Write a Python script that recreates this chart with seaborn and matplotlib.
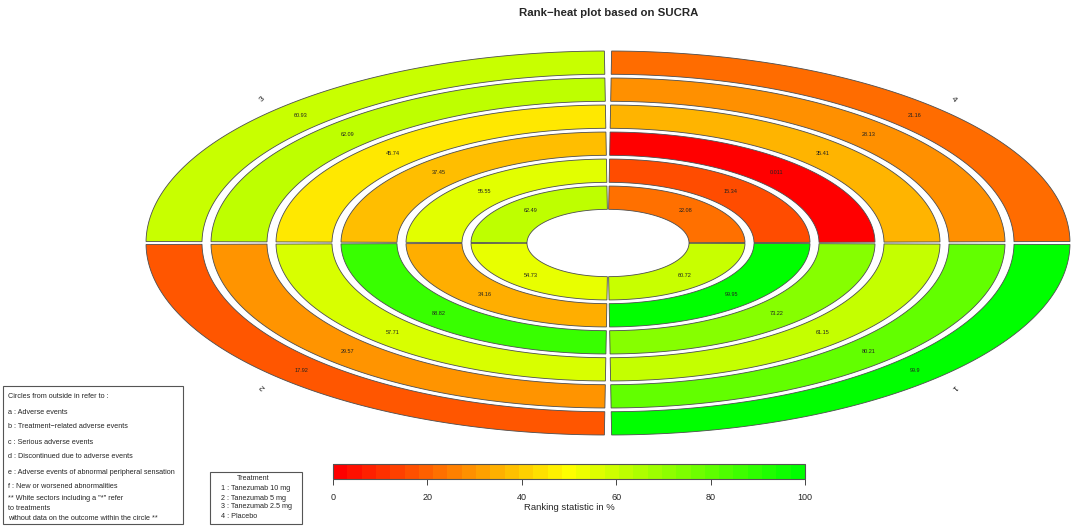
import numpy as np
import seaborn as sns
import matplotlib.pyplot as plt
from matplotlib.patches import Polygon, Rectangle
from matplotlib.colors import ListedColormap, BoundaryNorm
from matplotlib.ticker import NullLocator

# SUCRA (%) per treatment, circles a..f from outside in
treatments = ["1", "2", "3", "4"]
treatment_names = ["Tanezumab 10 mg", "Tanezumab 5 mg", "Tanezumab 2.5 mg", "Placebo"]
outcomes = ["Adverse events", "Treatment\u2212related adverse events", "Serious adverse events",
            "Discontinued due to adverse events", "Adverse events of abnormal peripheral sensation",
            "New or worsened abnormalities"]
sucra_t1 = [99.9, 80.21, 61.15, 73.22, 99.95, 60.72]
sucra_t2 = [17.92, 29.57, 57.71, 88.82, 34.16, 54.73]
sucra_t3 = [60.93, 62.09, 45.74, 37.45, 55.55, 62.49]
sucra_t4 = [21.16, 28.13, 35.41, 0.011, 15.34, 22.08]
sucra = [sucra_t1, sucra_t2, sucra_t3, sucra_t4]

sns.set_style("white")
plt.rcParams['font.family'] = ['Liberation Sans', 'DejaVu Sans']

W, H = 1072, 527
fig = plt.figure(figsize=(W / 100, H / 100), dpi=100)

# main axes: unit circle stretched into an ellipse
cx, cy, rx, ry = 608, 243, 462, 192
ax = fig.add_axes([0, 0, 1, 1])
ax.set_xlim(-cx / rx, (W - cx) / rx)
ax.set_ylim(-(H - cy) / ry, cy / ry)
ax.axis("off")

# sector colours: 100-step ramp red -> yellow -> green
fine = ListedColormap(sns.blend_palette(["#FF0000", "#FFFF00", "#00FF00"], n_colors=100))
fine_norm = BoundaryNorm(np.linspace(0, 100, 101), fine.N)
# colour key: coarser steps
cmap = ListedColormap(sns.blend_palette(["#FF0000", "#FFFF00", "#00FF00"], n_colors=33))
norm = BoundaryNorm(np.linspace(0, 100, 34), cmap.N)

step = 65 / rx
width = 56 / rx
gap = np.deg2rad(0.45)
# quadrant start angle per treatment (1 bottom-right, 2 bottom-left, 3 top-left, 4 top-right)
starts = [270, 180, 90, 0]

for t, vals in enumerate(sucra):
    a0 = np.deg2rad(starts[t]) + gap
    a1 = np.deg2rad(starts[t] + 90) - gap
    th = np.linspace(a0, a1, 120)
    for i, v in enumerate(vals):
        ro = 1 - i * step
        ri = ro - width
        xs = np.concatenate([ro * np.cos(th), ri * np.cos(th[::-1])])
        ys = np.concatenate([ro * np.sin(th), ri * np.sin(th[::-1])])
        ax.add_patch(Polygon(np.column_stack([xs, ys]), closed=True,
                             facecolor=fine(fine_norm(v)), edgecolor="#4d4d4d", lw=0.6))
        am = np.deg2rad(starts[t] + 45)
        rm = ro - width / 2
        ax.text(rm * np.cos(am), rm * np.sin(am), str(v), fontsize=4,
                ha="center", va="center", color="#222222")
    am = starts[t] + 45
    ax.text(1.057 * np.cos(np.deg2rad(am)), 1.057 * np.sin(np.deg2rad(am)), treatments[t],
            fontsize=6, rotation=am - 90, ha="center", va="center", color="#222222")

fig.text(609 / W, 1 - 13 / H, "Rank\u2212heat plot based on SUCRA", fontsize=8.2,
         fontweight="bold", ha="center", va="center")

# colour key
cax = fig.add_axes([333 / W, 1 - 479 / H, 472 / W, 15 / H])
sm = plt.cm.ScalarMappable(cmap=cmap, norm=norm)
cb = fig.colorbar(sm, cax=cax, orientation="horizontal", ticks=[0, 20, 40, 60, 80, 100])
cb.outline.set_edgecolor("#555555")
cb.outline.set_linewidth(0.8)
cax.xaxis.set_minor_locator(NullLocator())
cax.tick_params(labelsize=6.5, length=4, width=0.6, pad=6)
cb.ax.set_xticklabels(["0", "20", "40", "60", "80", "100"])
cax.set_xlabel("Ranking statistic in %", fontsize=6.8, labelpad=1)


def px(x, y):
    return x / W, 1 - y / H


# outcome legend box
x0, y0 = px(3, 524)
fig.patches.append(Rectangle((x0, y0), 180 / W, 138 / H, transform=fig.transFigure,
                             fill=False, edgecolor="#555555", lw=0.8))
lines = ["Circles from outside in refer to :"]
lines += [f"{k} : {o}" for k, o in zip("abcdef", outcomes)]
ys = [397, 412, 427, 442, 457, 472, 487]
for s, y in zip(lines, ys):
    fig.text(*px(8, y), s, fontsize=5.2, ha="left", va="center")
extra = ["** White sectors including a \"*\" refer", "to treatments",
         "without data on the outcome within the circle **"]
for s, y in zip(extra, [498, 508, 519]):
    fig.text(*px(8, y), s, fontsize=5.2, ha="left", va="center")

# treatment legend box
x0, y0 = px(210, 524)
fig.patches.append(Rectangle((x0, y0), 92 / W, 52 / H, transform=fig.transFigure,
                             fill=False, edgecolor="#555555", lw=0.8))
fig.text(*px(253, 478), "Treatment", fontsize=5.2, ha="center", va="center")
for k, (t, n) in enumerate(zip(treatments, treatment_names)):
    fig.text(*px(221, 489 + 9 * k), f"{t} : {n}", fontsize=5.2, ha="left", va="center")

fig.savefig("out.png", dpi=100)
